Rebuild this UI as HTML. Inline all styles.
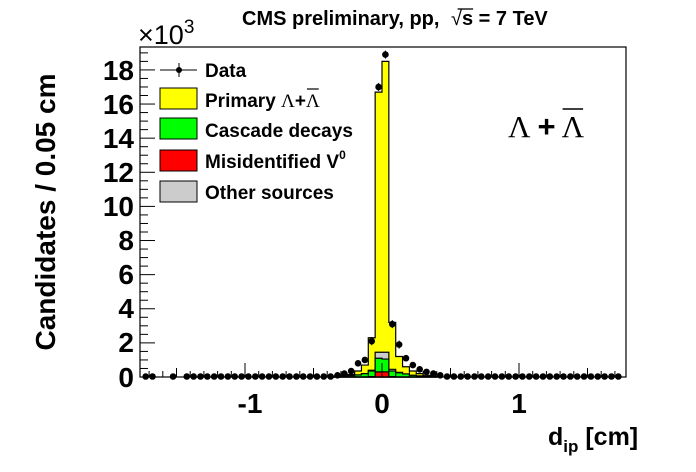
<!DOCTYPE html>
<html><head><meta charset="utf-8"><style>
body{margin:0;background:#fff}
svg{display:block}
</style></head><body>
<svg id="s" width="696" height="472" viewBox="0 0 696 472" xmlns="http://www.w3.org/2000/svg" font-family="Liberation Sans,Arial,sans-serif">
<rect width="696" height="472" fill="#fff"/>
<g id="hist"></g>
<g id="pts"></g>
<rect x="140" y="47" width="486" height="330" fill="none" stroke="#000" stroke-width="1.2"/>
<g id="ticks" stroke="#000" stroke-width="1"></g>
<g font-weight="bold" font-size="28" text-anchor="end">
<text x="134" y="80">18</text><text x="134" y="114">16</text><text x="134" y="148">14</text>
<text x="134" y="182">12</text><text x="134" y="216">10</text><text x="134" y="250">8</text>
<text x="134" y="284">6</text><text x="134" y="318">4</text><text x="134" y="352">2</text>
<text x="134" y="387">0</text>
</g>
<g font-weight="bold" font-size="28" text-anchor="middle">
<text x="250" y="413">-1</text><text x="382" y="413">0</text><text x="519" y="413">1</text>
</g>
<text x="138" y="44" font-size="27">×10<tspan font-size="19" dy="-11">3</tspan></text>
<text id="title" x="242" y="25" font-size="20" font-weight="bold">CMS preliminary, pp, <tspan font-weight="normal" dx="6">√</tspan>s = 7 TeV</text>
<text transform="translate(55,212) rotate(-90)" font-size="28" font-weight="bold" text-anchor="middle">Candidates / 0.05 cm</text>
<text x="548" y="445" font-size="25" font-weight="bold">d<tspan font-size="17" dy="7">ip</tspan><tspan dy="-7"> [cm]</tspan></text>
<text id="big" x="508" y="137" font-size="31" font-family="Liberation Serif,serif">Λ <tspan font-family="Liberation Sans,sans-serif" font-weight="bold">+</tspan> Λ</text>
<line id="ovb" x1="577" y1="109" x2="603" y2="109" stroke="#000" stroke-width="1.5"/>
<line x1="160" y1="70" x2="197" y2="70" stroke="#000"/><line x1="179" y1="63" x2="179" y2="77" stroke="#000"/><circle cx="179" cy="70" r="3" fill="#000"/>
<rect x="160" y="88" width="37" height="21" fill="#ff0" stroke="#000"/>
<rect x="160" y="118" width="37" height="21" fill="#0f0" stroke="#000"/>
<rect x="160" y="150" width="37" height="21" fill="#f00" stroke="#000"/>
<rect x="160" y="181" width="37" height="21" fill="#ccc" stroke="#000"/>
<g font-size="19" font-weight="bold">
<text x="205" y="77">Data</text>
<text id="prim" x="205" y="107">Primary <tspan font-weight="normal" font-family="Liberation Serif,serif">Λ</tspan>+<tspan font-weight="normal" font-family="Liberation Serif,serif">Λ</tspan></text>
<text x="205" y="137">Cascade decays</text>
<text x="205" y="168">Misidentified V<tspan font-size="12" dy="-9">0</tspan></text>
<text x="205" y="199">Other sources</text>
</g>
<line id="ovl" x1="310" y1="89" x2="323" y2="89" stroke="#000" stroke-width="1.2"/>
</svg>
<script>
var X0=382,SX=137,Y0=377,SY=17.06,ns="http://www.w3.org/2000/svg";
function px(x){return X0+x*SX} function py(v){return Y0-v*SY}
function el(t,a,p){var e=document.createElementNS(ns,t);for(var k in a)e.setAttribute(k,a[k]);document.getElementById(p).appendChild(e);}
var lo=-0.35;
var tot=[0.05,0.08,0.15,0.35,0.7,2.3,16.7,18.5,3.2,1.2,0.6,0.35,0.2,0.1,0.05];
var gtop=[0.03,0.05,0.08,0.12,0.2,0.4,1.45,1.45,0.45,0.27,0.18,0.1,0.06,0.03,0.02];
var grn=[0.03,0.05,0.08,0.12,0.2,0.35,1.1,1.05,0.35,0.25,0.18,0.1,0.06,0.03,0.02];
var red=[0,0,0,0,0,0.02,0.3,0.3,0.02,0,0,0,0,0,0];
function step(arr,fill){var d="M"+px(lo)+","+Y0;for(var i=0;i<arr.length;i++){var a=px(lo+i*0.05),b=px(lo+(i+1)*0.05);d+=" L"+a+","+py(arr[i])+" L"+b+","+py(arr[i]);}d+=" L"+px(lo+arr.length*0.05)+","+Y0+"Z";el("path",{d:d,fill:fill,stroke:"#000","stroke-width":1.2},"hist");}
step(tot,"#ff0");step(gtop,"#ccc");step(grn,"#0f0");step(red,"#f00");
var dat={"-0.325":0.1,"-0.275":0.2,"-0.225":0.35,"-0.175":0.8,"-0.125":1.0,"-0.075":2.1,"-0.025":17.0,"0.025":18.9,"0.075":3.1,"0.125":1.9,"0.175":1.1,"0.225":0.7,"0.275":0.45,"0.325":0.3,"0.375":0.2,"0.425":0.1};
for(var i=0;i<71;i++){var c=-1.75+i*0.05+0.025;c=Math.round(c*1000)/1000;if(c>1.75)break;
 if(Math.abs(c+1.625)<0.01||Math.abs(c+1.575)<0.01||Math.abs(c+1.475)<0.01)continue;
 var v=dat[String(c)]||0.03;el("circle",{cx:px(c),cy:py(v),r:3.3,fill:"#000"},"pts");
 if(v>1.5){el("line",{x1:px(c),x2:px(c),y1:py(v)-4,y2:py(v)+4,stroke:"#000"},"pts");}}
for(var k=0;k<=38;k++){var y=py(k*0.5);if(y<47)break;var L=(k%4==0)?15:8;el("line",{x1:140,x2:140+L,y1:y,y2:y},"ticks");}
for(var k=-17;k<=17;k++){var x=px(k*0.1);var L=(k%10==0)?14:(k%5==0?9:6);el("line",{x1:x,x2:x,y1:377,y2:377-L},"ticks");}
function ov(id,lineId,y,idxFn){try{var t=document.getElementById(id);var n=idxFn(t.textContent);var r=t.getExtentOfChar(n);
 if(lineId){var o=document.getElementById(lineId);o.setAttribute('x1',r.x+1);o.setAttribute('x2',r.x+r.width-1);}
 else el("line",{x1:r.x+r.width*0.6,x2:r.x+r.width+t.getExtentOfChar(n+1).width,y1:y,y2:y,stroke:"#000","stroke-width":1.3},"ticks");}catch(e){}}
ov("title",null,9,function(s){return s.indexOf('√')});
ov("prim","ovl",0,function(s){return s.lastIndexOf('Λ')});
ov("big","ovb",0,function(s){return s.lastIndexOf('Λ')});
</script>
</body></html>
